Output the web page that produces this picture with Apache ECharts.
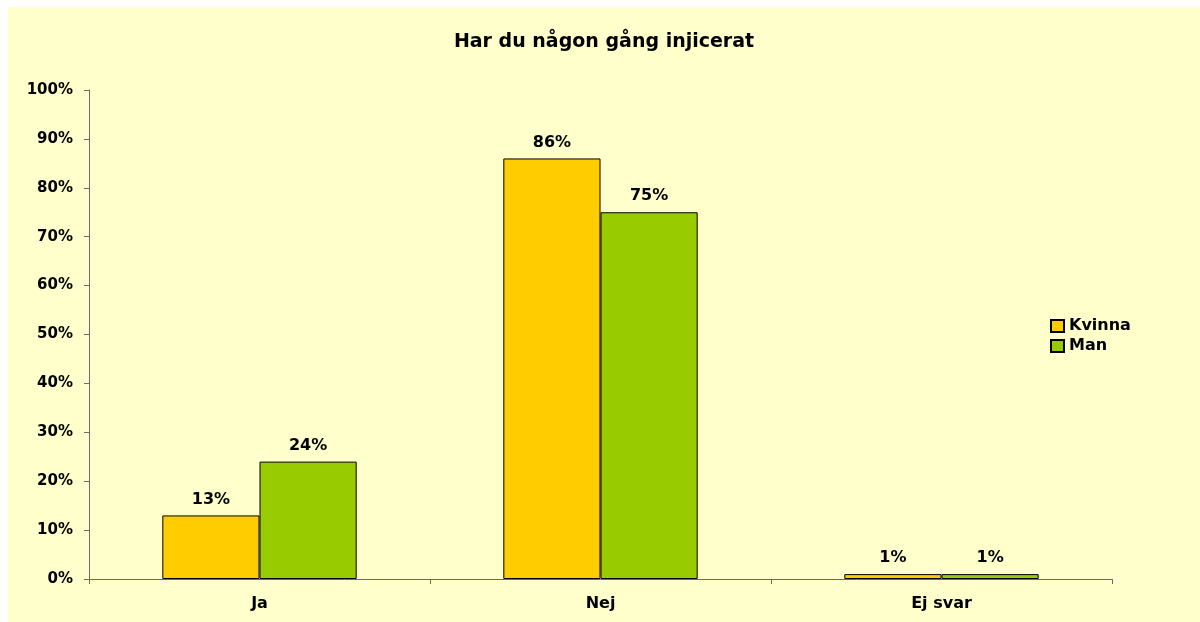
<!DOCTYPE html>
<html>
<head>
<meta charset="utf-8">
<script src="https://cdn.jsdelivr.net/npm/echarts@6/dist/echarts.min.js"></script>
<style>
  html, body { margin: 0; padding: 0; background: #ffffff; }
  #chart { position: absolute; left: 8px; top: 7px; width: 1192px; height: 615px; background: #FFFFCC; }
</style>
</head>
<body>
<div id="chart"></div>
<script>
const categories = ['Ja', 'Nej', 'Ej svar'];
const kvinna = [13, 86, 1];
const man = [24, 75, 1];
const yTicks = [0, 10, 20, 30, 40, 50, 60, 70, 80, 90, 100];

const font = '"DejaVu Sans", Verdana, sans-serif';
const chart = echarts.init(document.getElementById('chart'), null, { renderer: 'canvas' });

const labelCfg = {
  show: true,
  position: 'top',
  distance: 8,
  fontFamily: font,
  fontWeight: 'bold',
  fontSize: 16,
  color: '#000',
  formatter: p => Math.round(p.value) + '%'
};

chart.setOption({
  backgroundColor: 'transparent',
  animation: false,
  title: {
    text: 'Har du någon gång injicerat',
    left: 'center',
    top: 21,
    textStyle: { fontFamily: font, fontWeight: 'bold', fontSize: 19, color: '#000' }
  },
  legend: {
    orient: 'vertical',
    left: 1042,
    top: 311,
    padding: 0,
    itemWidth: 13,
    itemHeight: 12,
    itemGap: 4,
    icon: 'rect',
    textStyle: { fontFamily: font, fontWeight: 'bold', fontSize: 16, lineHeight: 16, color: '#000' },
    data: ['Kvinna', 'Man']
  },
  grid: { left: 81, right: 88, top: 83, bottom: 43, containLabel: false },
  xAxis: {
    type: 'category',
    data: categories,
    axisLine: { lineStyle: { color: '#6b6b6b', width: 1 } },
    axisTick: { show: true, length: 5, alignWithLabel: false, lineStyle: { color: '#6b6b6b' } },
    axisLabel: { margin: 17, fontFamily: font, fontWeight: 'bold', fontSize: 16, color: '#000' },
    splitLine: { show: false }
  },
  yAxis: {
    type: 'value',
    min: yTicks[0],
    max: yTicks[yTicks.length - 1],
    interval: yTicks[1] - yTicks[0],
    axisLine: { show: true, lineStyle: { color: '#6b6b6b', width: 1 } },
    axisTick: { show: true, length: 5, lineStyle: { color: '#6b6b6b' } },
    axisLabel: { margin: 16, fontFamily: font, fontWeight: 'bold', fontSize: 15, color: '#000', formatter: v => v + '%' },
    splitLine: { show: false }
  },
  series: [
    {
      name: 'Kvinna',
      type: 'bar',
      data: kvinna,
      barGap: '0%',
      barCategoryGap: '43%',
      itemStyle: { color: '#FFCC00', borderColor: '#000', borderWidth: 1 },
      label: labelCfg
    },
    {
      name: 'Man',
      type: 'bar',
      data: man,
      itemStyle: { color: '#99CC00', borderColor: '#000', borderWidth: 1 },
      label: labelCfg
    }
  ]
});
</script>
</body>
</html>
